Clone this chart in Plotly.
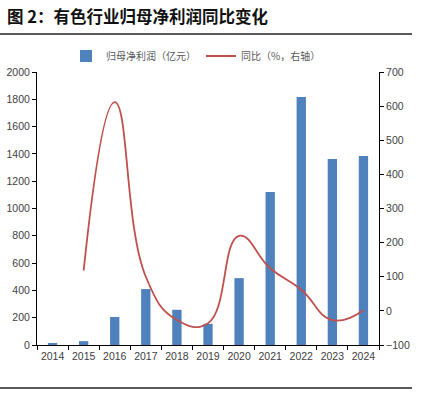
import plotly.graph_objects as go

years = ["2014", "2015", "2016", "2017", "2018", "2019", "2020", "2021", "2022", "2023", "2024"]
net_profit = [15, 28, 205, 410, 258, 155, 490, 1120, 1817, 1363, 1385]
yoy_years = ["2015", "2016", "2017", "2018", "2019", "2020", "2021", "2022", "2023", "2024"]
yoy = [118, 612, 100, -27, -36, 220, 125, 62, -27, 2]

left_ticks = list(range(0, 2001, 200))
right_ticks = list(range(-100, 701, 100))

W, H = 423, 395
L, R, T, B = 37, 379, 72, 345
pw, ph = R - L, B - T

def px_x(x):
    return (x - L) / pw

def px_y(y):
    return (B - y) / ph

fig = go.Figure()
fig.add_trace(go.Bar(
    x=years, y=net_profit, name="归母净利润（亿元）",
    marker=dict(color="#4F81BD", line=dict(width=0)),
    yaxis="y",
))
fig.add_trace(go.Scatter(
    x=yoy_years, y=yoy, name="同比（%，右轴）", mode="lines",
    line=dict(color="#C0504D", width=1.8, shape="spline", smoothing=1.3),
    yaxis="y2",
))

tickfont = dict(family="Liberation Sans, Arial, sans-serif", size=10.5, color="#404040")

fig.update_layout(
    width=W, height=H,
    margin=dict(l=L, r=W - R, t=T, b=H - B, autoexpand=False),
    paper_bgcolor="white", plot_bgcolor="white",
    bargap=0.7,
    font=dict(family="Noto Sans CJK SC, sans-serif"),
    title=dict(
        text="<b>图 2：有色行业归母净利润同比变化</b>",
        xref="container", yref="container",
        x=7 / W, xanchor="left", y=1 - 17 / H, yanchor="middle",
        font=dict(family="Noto Sans CJK SC, sans-serif", size=16.5, color="#111111"),
    ),
    legend=dict(
        orientation="h", x=px_x(66), xanchor="left", y=px_y(56), yanchor="middle",
        font=dict(family="Noto Sans CJK SC, sans-serif", size=10, color="#595959"),
        bgcolor="rgba(0,0,0,0)", itemwidth=30, tracegroupgap=0,
    ),
    xaxis=dict(
        type="category", showgrid=False, showline=True, linecolor="#000000", linewidth=1,
        ticks="outside", tickson="boundaries", ticklen=4, tickcolor="#000000",
        tickfont=tickfont, tickangle=0, automargin=False, ticklabelstandoff=1,
    ),
    yaxis=dict(
        range=[0, 2000], tickvals=left_ticks, showgrid=False, zeroline=False,
        showline=True, linecolor="#000000", linewidth=1, automargin=False,
        ticks="outside", ticklen=4, tickcolor="#000000", tickfont=tickfont,
    ),
    yaxis2=dict(
        range=[-100, 700], tickvals=right_ticks, overlaying="y", side="right",
        showgrid=False, zeroline=False, automargin=False,
        showline=True, linecolor="#000000", linewidth=1,
        ticks="outside", ticklen=4, tickcolor="#000000", tickfont=tickfont,
    ),
    shapes=[
        dict(type="line", xref="paper", yref="paper", x0=px_x(0), x1=px_x(412),
             y0=px_y(34), y1=px_y(34), line=dict(color="#222222", width=1.5)),
        dict(type="line", xref="paper", yref="paper", x0=px_x(0), x1=px_x(412),
             y0=px_y(388), y1=px_y(388), line=dict(color="#222222", width=1.5)),
    ],
)

fig.write_html("out.html", config={"displayModeBar": False},
               post_script="document.body.style.margin='0';")
